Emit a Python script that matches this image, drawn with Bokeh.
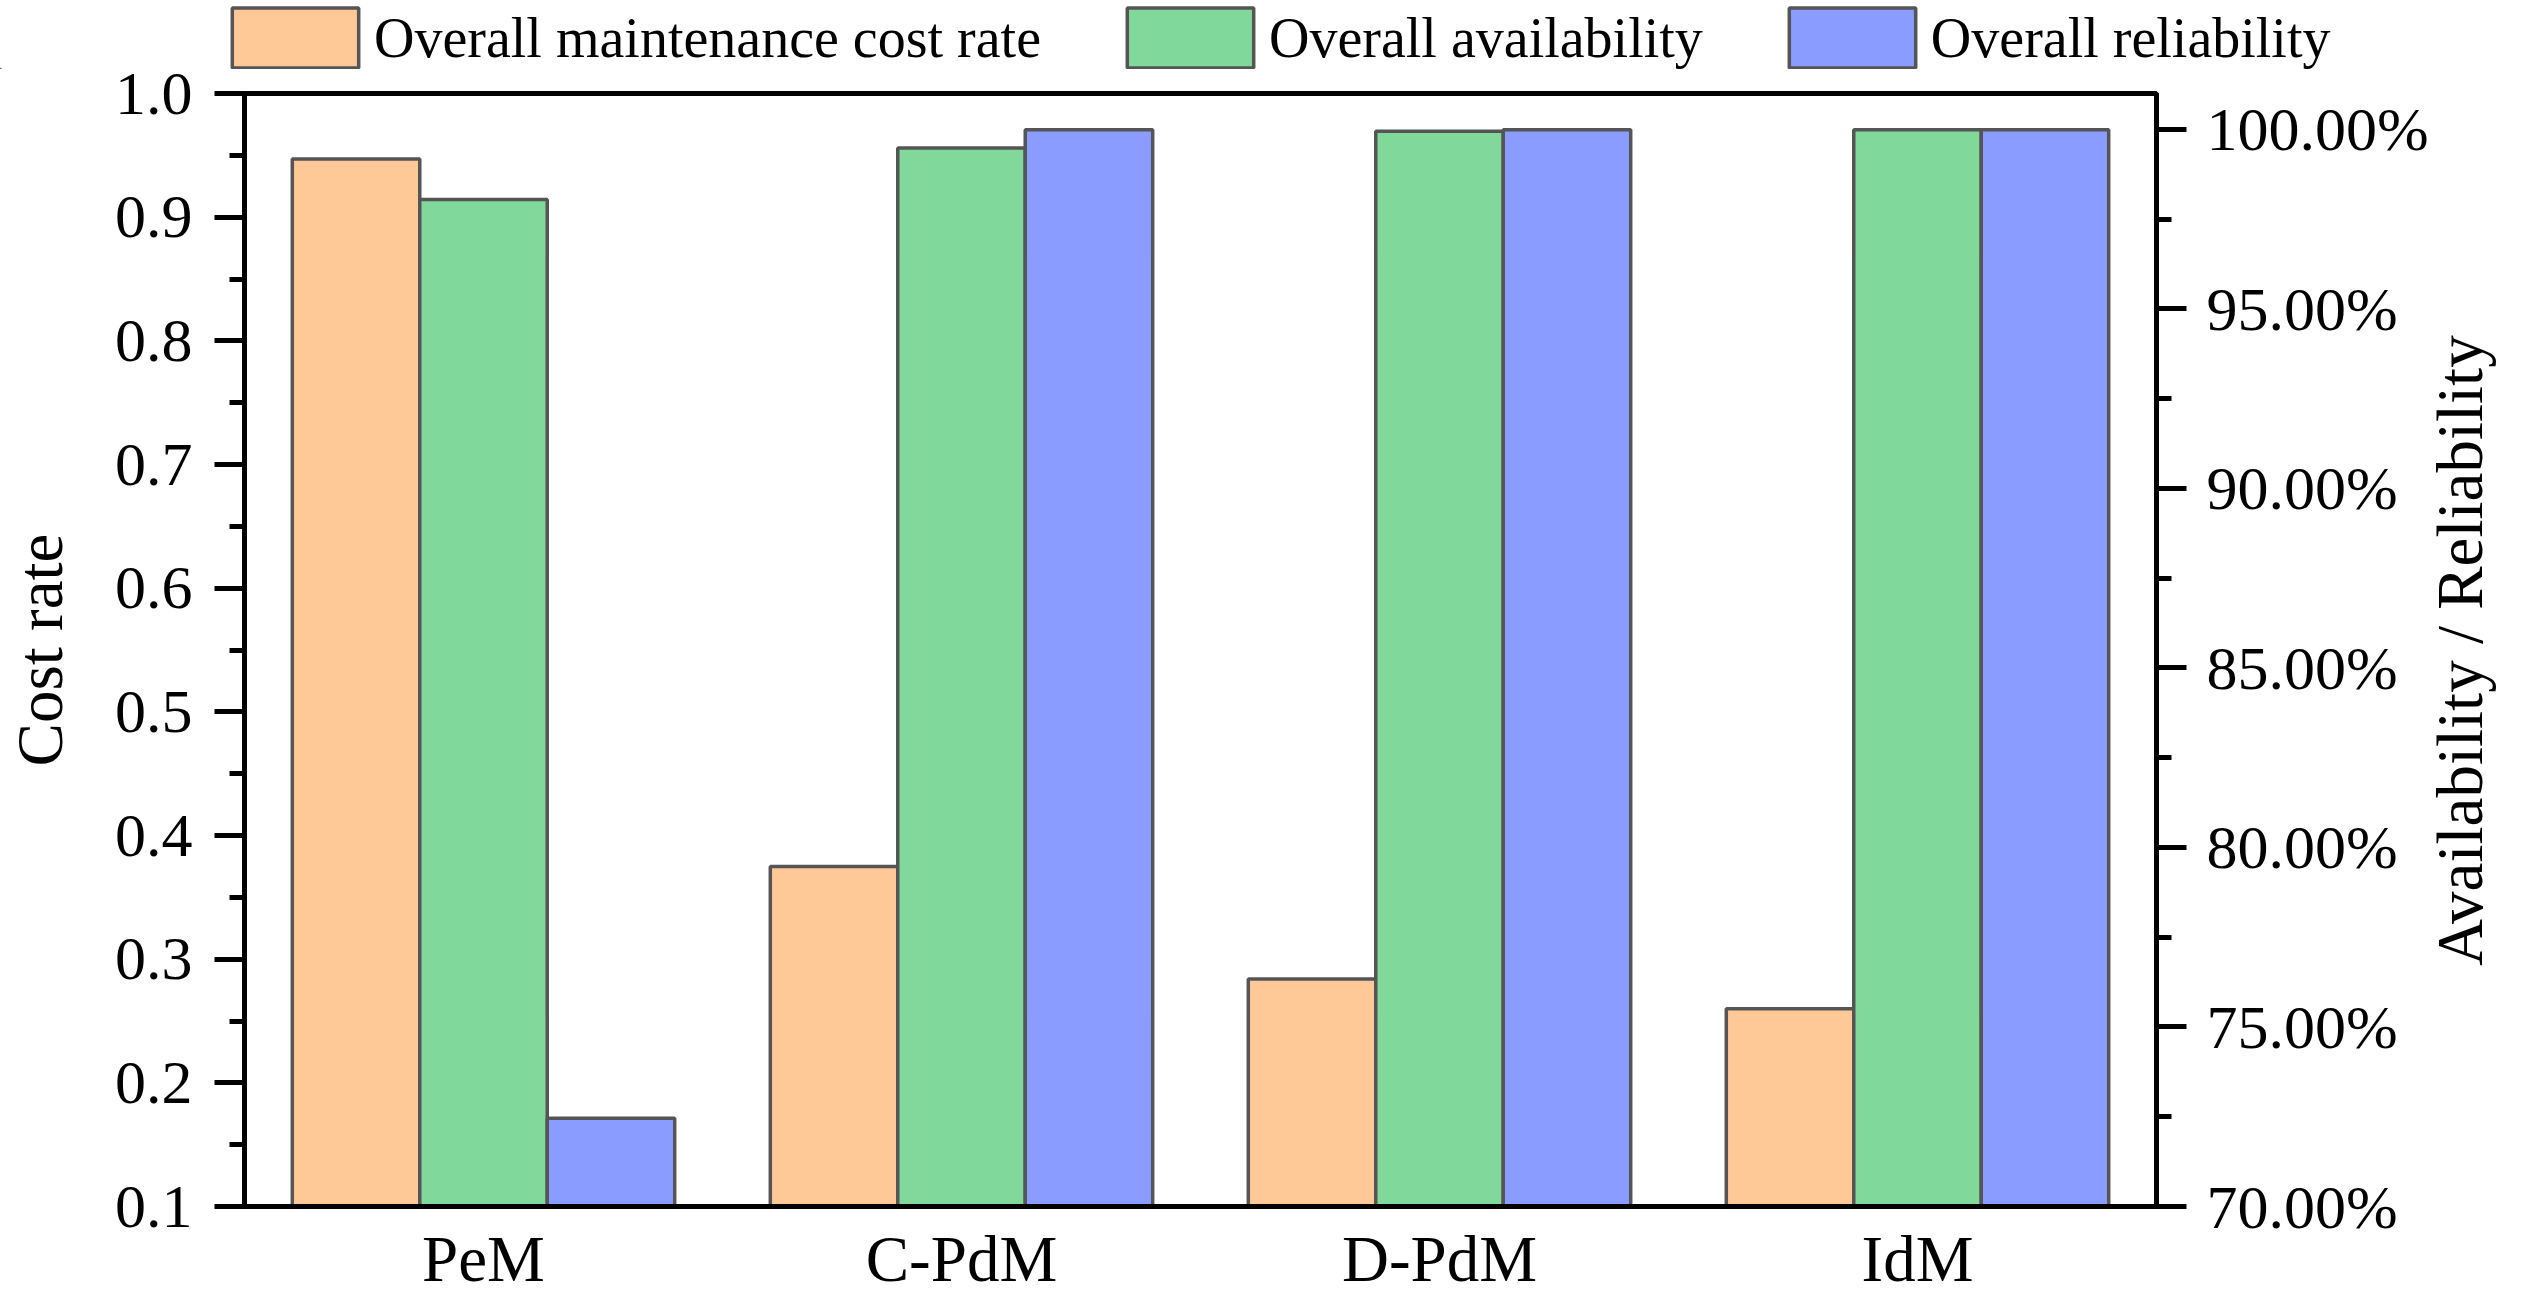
import math
from bokeh.plotting import figure
from bokeh.models import (Range1d, FactorRange, LinearAxis, FixedTicker, PrintfTickFormatter,
                          Legend, LegendItem, ColumnDataSource)
from bokeh.transform import dodge
from bokeh.embed import file_html
from bokeh.resources import INLINE

# ---- data ----
categories = ["PeM", "C-PdM", "D-PdM", "IdM"]
cost_rate = [0.947, 0.375, 0.284, 0.260]          # left axis
availability = [98.05, 99.48, 99.95, 99.99]       # right axis, %
reliability = [72.46, 99.99, 99.99, 99.99]        # right axis, %
series_labels = ["Overall maintenance cost rate", "Overall availability", "Overall reliability"]
left_ticks = [0.1, 0.2, 0.3, 0.4, 0.5, 0.6, 0.7, 0.8, 0.9, 1.0]
left_minor = [0.15, 0.25, 0.35, 0.45, 0.55, 0.65, 0.75, 0.85, 0.95]
right_ticks = [70, 75, 80, 85, 90, 95, 100]
right_minor = [72.5, 77.5, 82.5, 87.5, 92.5, 97.5]
right_title = "Availability / Reliability"

colors = ["#FFC896", "#80D99A", "#8A9CFF"]
edge = "#555555"
FONT = "Liberation Serif"
LEG_H = 69

# ---------------- main chart ----------------
src = ColumnDataSource(dict(cat=categories, cost=cost_rate, avail=availability, rel=reliability))

p = figure(width=2534, height=1311 - LEG_H,
           x_range=FactorRange(factors=categories, range_padding=0),
           y_range=Range1d(0.1, 1.0),
           output_backend="svg", toolbar_location=None,
           min_border_left=244, min_border_right=368, min_border_top=93 - LEG_H,
           min_border_bottom=105)
p.extra_y_ranges = {"right": Range1d(70, 101)}
p.xgrid.visible = False
p.ygrid.visible = False
p.outline_line_color = "black"
p.outline_line_width = 5
p.background_fill_color = "white"
p.border_fill_color = "white"

bw = 0.8 / 3
r1 = p.vbar(x=dodge("cat", -bw, range=p.x_range), top="cost", bottom=0.1, width=bw, source=src,
            fill_color=colors[0], line_color=edge, line_width=3.5)
r2 = p.vbar(x=dodge("cat", 0, range=p.x_range), top="avail", bottom=70, width=bw, source=src,
            y_range_name="right", fill_color=colors[1], line_color=edge, line_width=3.5)
r3 = p.vbar(x=dodge("cat", bw, range=p.x_range), top="rel", bottom=70, width=bw, source=src,
            y_range_name="right", fill_color=colors[2], line_color=edge, line_width=3.5)


def style_axis(ax, standoff, size):
    ax.axis_line_width = 5
    ax.major_tick_line_width = 5
    ax.minor_tick_line_width = 5
    ax.major_tick_in = 0
    ax.major_tick_out = 30
    ax.minor_tick_in = 0
    ax.minor_tick_out = 15
    ax.major_label_standoff = standoff
    ax.major_label_text_font = FONT
    ax.major_label_text_font_size = size
    ax.major_label_text_color = "black"
    ax.axis_label_text_font = FONT
    ax.axis_label_text_font_size = "65px"
    ax.axis_label_text_font_style = "normal"
    ax.axis_label_text_color = "black"


# left axis
ya = p.yaxis[0]
ya.ticker = FixedTicker(ticks=left_ticks, minor_ticks=left_minor)
ya.formatter = PrintfTickFormatter(format="%.1f")
style_axis(ya, 22, "62px")
ya.axis_label = "Cost rate"
ya.axis_label_standoff = 36

# right axis (title reads bottom-to-top like the reference)
ra = LinearAxis(y_range_name="right",
                ticker=FixedTicker(ticks=right_ticks, minor_ticks=right_minor),
                formatter=PrintfTickFormatter(format="%.2f%%"))
style_axis(ra, 20, "62px")
props = LinearAxis.properties()
if "axis_label_orientation" in props and "axis_label_align" in props:
    ra.axis_label_orientation = math.pi / 2
    ra.axis_label_align = "start"
    ra.axis_label = "\u00a0" * 14 + "\u2009" + right_title
else:
    ra.axis_label = right_title
ra.axis_label_standoff = 28
p.add_layout(ra, "right")

# bottom axis
xa = p.xaxis[0]
style_axis(xa, 16, "65px")
xa.major_tick_out = 0
xa.minor_tick_out = 0

# ---------------- legend strip on top (separate root, no frame alignment) ----------------
pl = figure(width=2534, height=LEG_H, x_range=Range1d(0, 1), y_range=Range1d(0, 1),
            x_axis_type=None, y_axis_type=None, output_backend="svg", toolbar_location=None,
            min_border=0, min_border_left=0, min_border_right=0, min_border_top=0,
            min_border_bottom=0, outline_line_color=None)
pl.background_fill_color = "white"
pl.border_fill_color = "white"
# legend keys only: one bar each, kept far outside the visible ranges of this strip
key_src = ColumnDataSource(dict(x=[-50.0], top=[-50.0]))
leg_renderers = [pl.vbar(x="x", top="top", bottom=-60.0, width=0.1, source=key_src,
                         fill_color=c, line_color=edge, line_width=3.5)
                 for c in colors]
legend = Legend(items=[LegendItem(label=lab, renderers=[r])
                       for lab, r in zip(series_labels, leg_renderers)],
                location=(216, LEG_H - 75), orientation="horizontal",
                glyph_width=158, glyph_height=75, label_standoff=0, spacing=70,
                padding=0, margin=0, border_line_color=None, background_fill_alpha=0,
                label_text_font=FONT, label_text_font_size="56px", label_text_color="black")
pl.add_layout(legend)

open("out.html", "w").write(file_html([pl, p], INLINE))
